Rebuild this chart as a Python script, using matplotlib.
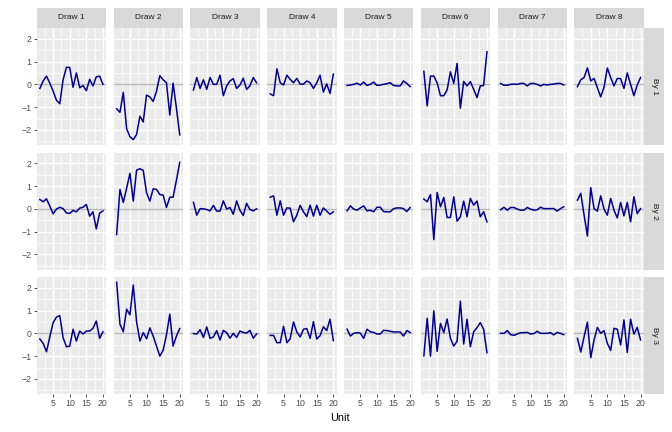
import numpy as np
import matplotlib
matplotlib.use('Agg')
import matplotlib.pyplot as plt

plt.rcParams['font.family'] = ['Liberation Sans', 'DejaVu Sans']

units = list(range(1, 21))
draws = ['Draw 1', 'Draw 2', 'Draw 3', 'Draw 4', 'Draw 5', 'Draw 6', 'Draw 7', 'Draw 8']
bys = ['By 1', 'By 2', 'By 3']

by1 = [
    [-0.18, 0.15, 0.36, 0.05, -0.3, -0.7, -0.85, 0.2, 0.75, 0.74, -0.13, 0.5, -0.15, -0.05, -0.28, 0.22, -0.07, 0.33, 0.36, 0.0],
    [-1.07, -1.23, -0.35, -1.95, -2.3, -2.43, -2.2, -1.4, -1.65, -0.47, -0.55, -0.75, -0.3, 0.38, 0.2, 0.07, -1.35, 0.05, -1.05, -2.22],
    [-0.25, 0.3, -0.18, 0.2, -0.22, 0.3, 0.0, 0.0, 0.4, -0.5, -0.07, 0.15, 0.25, -0.18, -0.03, 0.27, -0.22, -0.07, 0.3, 0.07],
    [-0.42, -0.5, 0.68, 0.07, -0.03, 0.4, 0.22, 0.07, 0.26, 0.01, 0.01, 0.15, 0.07, -0.18, 0.07, 0.4, -0.34, 0.02, -0.4, 0.45],
    [-0.05, -0.03, 0.0, 0.05, -0.03, 0.1, -0.05, 0.0, 0.1, -0.05, -0.03, 0.0, 0.03, 0.07, -0.05, -0.07, -0.07, 0.15, 0.04, -0.1],
    [0.57, -0.95, 0.36, 0.36, 0.07, -0.5, -0.5, -0.25, 0.55, 0.04, 0.92, -1.05, 0.13, -0.07, 0.12, -0.22, -0.58, -0.07, -0.05, 1.43],
    [0.04, -0.04, -0.04, 0.0, 0.01, 0.0, 0.04, 0.04, -0.07, 0.04, 0.04, 0.0, -0.07, 0.0, -0.03, 0.0, 0.01, 0.04, 0.04, -0.03],
    [-0.1, 0.2, 0.3, 0.72, 0.15, 0.26, -0.15, -0.55, -0.13, 0.72, 0.3, -0.07, 0.26, 0.25, -0.18, 0.5, 0.0, -0.5, -0.03, 0.3],
]
by2 = [
    [0.41, 0.31, 0.44, 0.12, -0.22, -0.01, 0.07, 0.01, -0.18, -0.2, -0.07, -0.13, 0.03, 0.07, 0.19, -0.32, -0.13, -0.88, -0.19, -0.09],
    [-1.13, 0.85, 0.28, 0.9, 1.56, 0.34, 1.7, 1.76, 1.69, 0.71, 0.34, 0.88, 0.85, 0.63, 0.6, 0.06, 0.51, 0.51, 1.26, 2.04],
    [0.28, -0.28, 0.01, 0.0, -0.03, -0.09, 0.15, -0.1, -0.1, 0.35, -0.01, 0.06, -0.24, 0.35, -0.07, -0.29, 0.24, -0.03, -0.09, 0.0],
    [0.51, 0.57, -0.28, 0.35, -0.28, 0.04, 0.03, -0.57, -0.28, 0.15, -0.13, -0.34, 0.16, -0.32, 0.16, -0.28, 0.04, -0.1, -0.24, -0.13],
    [-0.09, 0.13, -0.01, -0.06, 0.04, 0.13, -0.09, -0.06, -0.13, 0.07, 0.07, -0.12, -0.13, -0.13, 0.01, 0.04, 0.04, 0.01, -0.12, 0.06],
    [0.43, 0.31, 0.63, -1.35, 0.72, 0.09, 0.5, -0.38, -0.38, 0.53, -0.54, -0.35, 0.34, -0.35, 0.46, 0.16, 0.34, -0.35, -0.13, -0.57],
    [-0.04, 0.07, -0.06, 0.06, 0.06, -0.01, -0.06, -0.06, 0.06, -0.01, -0.06, -0.04, 0.07, 0.01, 0.01, 0.01, 0.01, -0.1, 0.01, 0.09],
    [0.38, 0.68, -0.28, -1.19, 0.93, 0.01, -0.1, 0.57, -0.01, -0.28, 0.46, -0.06, -0.4, 0.28, -0.31, 0.28, -0.57, 0.53, -0.21, 0.01],
]
by3 = [
    [-0.25, -0.44, -0.81, -0.15, 0.47, 0.71, 0.78, -0.19, -0.59, -0.56, 0.18, -0.34, 0.1, -0.03, 0.1, 0.1, 0.22, 0.54, -0.22, 0.07],
    [2.24, 0.4, 0.07, 1.06, 0.81, 2.12, 0.51, -0.34, 0.03, -0.24, 0.24, -0.12, -0.56, -1.0, -0.74, -0.07, 0.84, -0.56, -0.12, 0.21],
    [-0.01, -0.03, 0.16, -0.18, 0.28, -0.22, -0.16, 0.12, -0.29, 0.13, 0.03, -0.21, 0.0, -0.18, 0.1, 0.04, 0.01, 0.13, -0.21, -0.03],
    [-0.09, -0.09, -0.41, -0.41, 0.31, -0.41, -0.24, 0.5, 0.06, -0.16, 0.18, 0.21, -0.22, 0.51, -0.25, -0.1, 0.29, 0.12, 0.62, -0.32],
    [0.18, -0.12, 0.0, 0.03, 0.01, -0.22, 0.18, 0.07, 0.04, -0.03, -0.03, 0.13, 0.12, 0.09, 0.06, 0.06, 0.06, -0.12, 0.12, 0.04],
    [-0.99, 0.66, -1.0, 0.99, -0.79, 0.44, 0.03, 0.63, -0.22, -0.56, -0.35, 1.41, -0.47, 0.62, -0.59, 0.07, 0.25, 0.47, 0.18, -0.85],
    [0.0, 0.0, 0.12, -0.06, -0.09, -0.03, 0.03, 0.03, 0.04, -0.03, -0.01, 0.09, 0.0, 0.0, 0.0, 0.03, -0.07, 0.04, 0.0, -0.06],
    [-0.22, -0.82, -0.15, 0.49, -1.07, -0.29, 0.26, 0.0, 0.12, -0.44, -0.75, 0.22, 0.18, -0.51, 0.59, -0.84, 0.62, -0.03, 0.26, -0.29],
]
rows = [by1, by2, by3]

W, H = 672, 432
fig = plt.figure(figsize=(W / 100, H / 100), dpi=100)


def box(x, y, w, h):
    return [x / W, 1 - (y + h) / H, w / W, h / H]


allv = np.concatenate([np.ravel(r) for r in rows])
lo, hi = allv.min(), allv.max()
pad = (hi - lo) * 0.05
ylim = (lo - pad, hi + pad)
xlim = (1 - 19 * 0.05, 20 + 19 * 0.05)

left, pw, gap = 36.7, 69.4, 7.4
tops = [28, 152.5, 277]
ph = 117

for r, series_row in enumerate(rows):
    for c, vals in enumerate(series_row):
        x0 = left + c * (pw + gap)
        ax = fig.add_axes(box(x0, tops[r], pw, ph))
        ax.set_facecolor('#EBEBEB')
        ax.set_xlim(xlim)
        ax.set_ylim(ylim)
        ax.set_xticks([5, 10, 15, 20])
        ax.set_xticks([2.5, 7.5, 12.5, 17.5], minor=True)
        ax.set_yticks([-2, -1, 0, 1, 2])
        ax.set_yticks([-2.5, -1.5, -0.5, 0.5, 1.5], minor=True)
        ax.grid(which='major', color='white', lw=1.0)
        ax.grid(which='minor', color='white', lw=0.5)
        ax.set_axisbelow(True)
        for s in ax.spines.values():
            s.set_visible(False)
        ax.tick_params(which='minor', length=0)
        ax.tick_params(which='major', length=2.2, width=0.6, color='#333333',
                       labelsize=6.3, labelcolor='#4D4D4D', pad=1.5)
        if c != 0:
            ax.tick_params(axis='y', length=0, labelleft=False)
        if r != 2:
            ax.tick_params(axis='x', length=0, labelbottom=False)
        ax.axhline(0, color='#B8B8B8', lw=1.0, zorder=1.5)
        ax.plot(units, vals, color='#00008B', lw=1.1, zorder=2)

        if r == 0:
            sx = fig.add_axes(box(x0, 7.5, pw, 20.5))
            sx.set_facecolor('#D9D9D9')
            sx.set_xticks([])
            sx.set_yticks([])
            for s in sx.spines.values():
                s.set_visible(False)
            sx.text(0.5, 0.5, draws[c], ha='center', va='center', fontsize=6.0,
                    color='#1A1A1A', transform=sx.transAxes)

    sy = fig.add_axes(box(644.3, tops[r], 19.5, ph))
    sy.set_facecolor('#D9D9D9')
    sy.set_xticks([])
    sy.set_yticks([])
    for s in sy.spines.values():
        s.set_visible(False)
    sy.text(0.5, 0.5, bys[r], ha='center', va='center', rotation=-90, fontsize=6.0,
            color='#1A1A1A', transform=sy.transAxes)

fig.text((left + 643.7) / 2 / W, 1 - 418 / H, 'Unit', ha='center', va='center',
         fontsize=7.8, color='black')

fig.savefig('out.png', dpi=100)
